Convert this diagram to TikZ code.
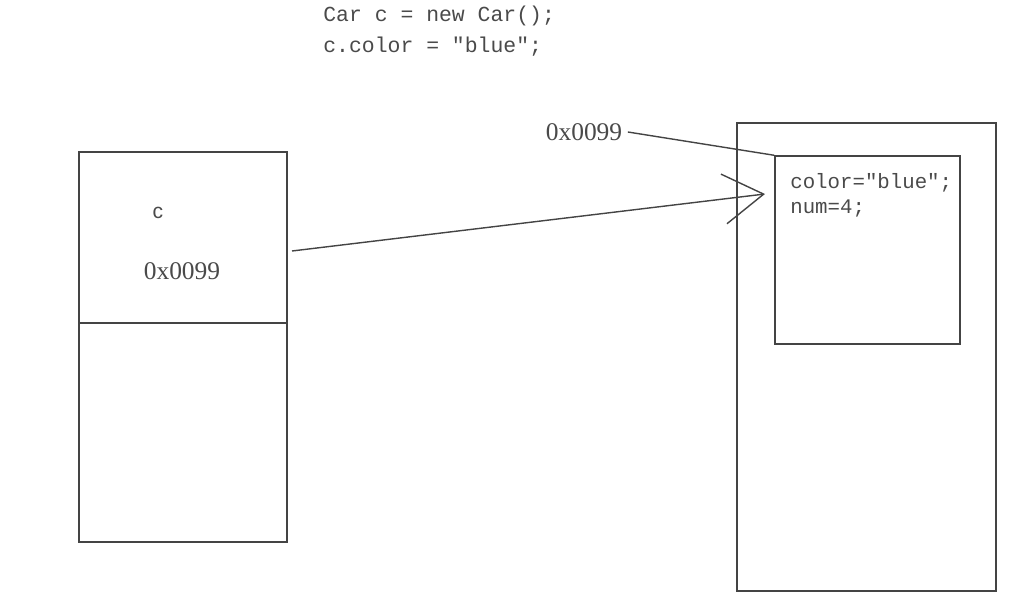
\documentclass[tikz,border=0pt]{standalone}
\usepackage{fontspec}
\setmainfont{Liberation Serif}
\setsansfont{Liberation Sans}
\setmonofont{Liberation Mono}
\usetikzlibrary{arrows.meta}
\definecolor{pen}{HTML}{444444}
\definecolor{ink}{HTML}{4A4A4A}
\begin{document}
\begin{tikzpicture}[
	box/.style={
		draw=pen, line width=0.8pt, rectangle, inner sep=0pt
	},
	arr/.style={-{Straight Barb[length=0.8cm, width=1.0cm, line width=0.8pt]}, draw=pen, line width=0.8pt},
	lnk/.style={draw=pen, line width=0.8pt},
	code/.style={font=\ttfamily\fontsize{12.2}{14}\selectfont, text=ink, anchor=west, inner sep=0pt},
	addr/.style={font=\fontsize{14.5}{16}\selectfont, text=ink, inner sep=1pt},
	field/.style={font=\ttfamily\fontsize{11.8}{14.2}\selectfont, text=ink, align=left, inner sep=0pt},
	]
	\useasboundingbox (0,0) rectangle (20.48,12.32);
	
	\node[code] (line1) at (6.46, 12.00) {Car c = new Car();};
	\node[code] (line2) at (6.46, 11.38) {c.color = "blue";};
	
	% stack
	\node[box, minimum width=4.16cm, minimum height=7.8cm] (stack) at (3.66, 5.38) {};
	\draw[lnk] (stack.west |- 0,5.86) -- (stack.east |- 0,5.86);
	\node[font=\sffamily\fontsize{12}{14}\selectfont, text=ink] (var) at (3.16, 8.06) {c};
	\node[addr] (val) at (3.64, 6.90) {0x0099};
	
	% heap
	\node[box, minimum width=5.18cm, minimum height=9.36cm] (heap) at (17.33, 5.18) {};
	\node[box, minimum width=3.70cm, minimum height=3.76cm] (obj) at (17.35, 7.32) {};
	\node[field, anchor=north west] (fields) at (15.80, 8.86) {color="blue";\\num=4;};
	\node[addr] (objaddr) at (11.68, 9.68) {0x0099};
	
	\coordinate (refstart) at (5.84, 7.30);
	\coordinate (reftip)   at (15.30, 8.44);
	
	\draw[lnk] ([xshift=2pt]objaddr.east) -- (obj.north west);
	\draw[arr] (refstart) -- (reftip);
	
\end{tikzpicture}
\end{document}
